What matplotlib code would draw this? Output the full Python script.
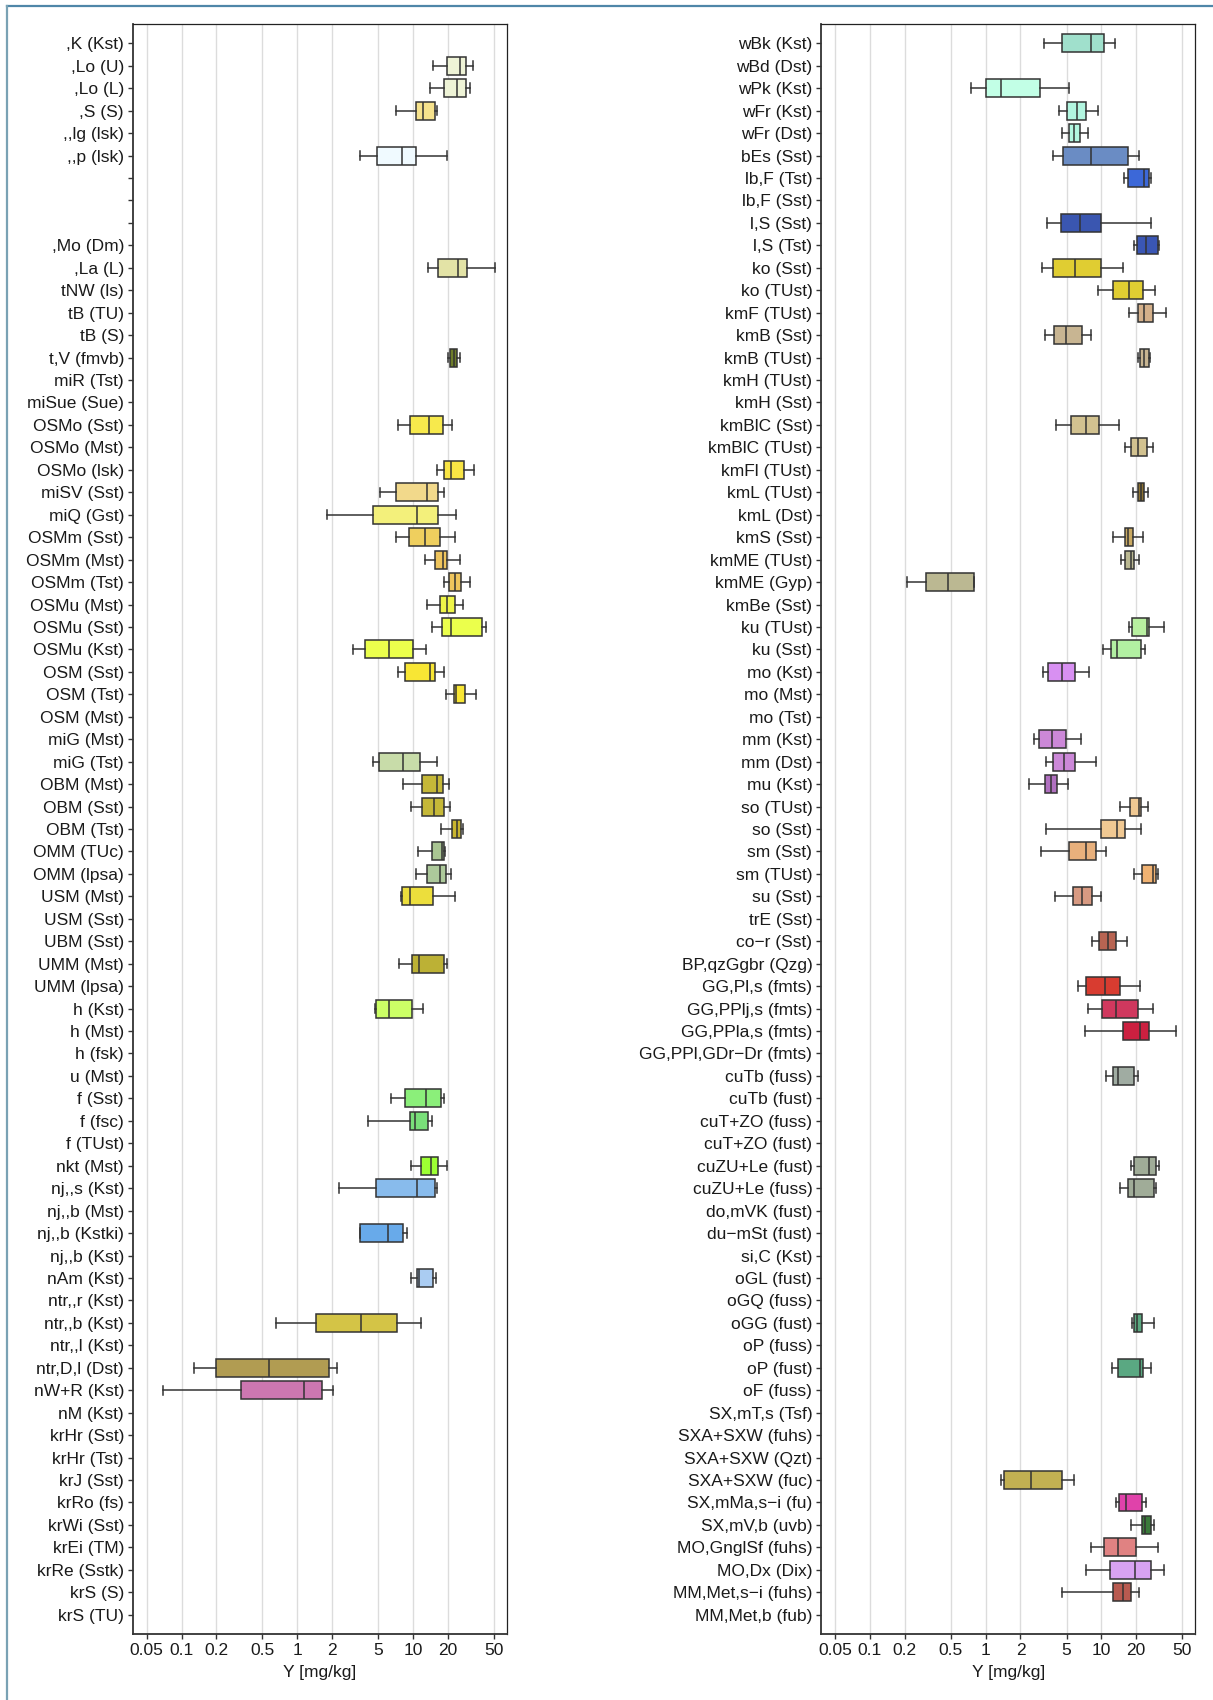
import matplotlib
matplotlib.use("Agg")
import matplotlib.pyplot as plt
from matplotlib.lines import Line2D

plt.rcParams["font.family"] = ["Liberation Sans", "DejaVu Sans"]

# ---- left panel ----
left_labels = [
    ",K (Kst)", ",Lo (U)", ",Lo (L)", ",S (S)", ",,lg (lsk)", ",,p (lsk)", "", "", "",
    ",Mo (Dm)", ",La (L)", "tNW (ls)", "tB (TU)", "tB (S)", "t,V (fmvb)", "miR (Tst)",
    "miSue (Sue)", "OSMo (Sst)", "OSMo (Mst)", "OSMo (lsk)", "miSV (Sst)", "miQ (Gst)",
    "OSMm (Sst)", "OSMm (Mst)", "OSMm (Tst)", "OSMu (Mst)", "OSMu (Sst)", "OSMu (Kst)",
    "OSM (Sst)", "OSM (Tst)", "OSM (Mst)", "miG (Mst)", "miG (Tst)", "OBM (Mst)",
    "OBM (Sst)", "OBM (Tst)", "OMM (TUc)", "OMM (lpsa)", "USM (Mst)", "USM (Sst)",
    "UBM (Sst)", "UMM (Mst)", "UMM (lpsa)", "h (Kst)", "h (Mst)", "h (fsk)", "u (Mst)",
    "f (Sst)", "f (fsc)", "f (TUst)", "nkt (Mst)", "nj,,s (Kst)", "nj,,b (Mst)",
    "nj,,b (Kstki)", "nj,,b (Kst)", "nAm (Kst)", "ntr,,r (Kst)", "ntr,,b (Kst)",
    "ntr,,l (Kst)", "ntr,D,l (Dst)", "nW+R (Kst)", "nM (Kst)", "krHr (Sst)", "krHr (Tst)",
    "krJ (Sst)", "krRo (fs)", "krWi (Sst)", "krEi (TM)", "krRe (Sstk)", "krS (S)", "krS (TU)",
]
left_rows = [
    ",Lo (U)", ",Lo (L)", ",S (S)", ",,p (lsk)", ",La (L)", "t,V (fmvb)", "OSMo (Sst)",
    "OSMo (lsk)", "miSV (Sst)", "miQ (Gst)", "OSMm (Sst)", "OSMm (Mst)", "OSMm (Tst)",
    "OSMu (Mst)", "OSMu (Sst)", "OSMu (Kst)", "OSM (Sst)", "OSM (Tst)", "miG (Tst)",
    "OBM (Mst)", "OBM (Sst)", "OBM (Tst)", "OMM (TUc)", "OMM (lpsa)", "USM (Mst)",
    "UMM (Mst)", "h (Kst)", "f (Sst)", "f (fsc)", "nkt (Mst)", "nj,,s (Kst)",
    "nj,,b (Kstki)", "nAm (Kst)", "ntr,,b (Kst)", "ntr,D,l (Dst)", "nW+R (Kst)",
]
left_lo = [14.9, 13.9, 7.2, 3.46, 13.6, 20.0, 7.44, 16.0, 5.23, 1.81, 7.2, 12.6, 18.5,
           13.3, 14.6, 3.03, 7.39, 19.2, 4.49, 8.22, 9.7, 17.5, 11.0, 10.6, 7.9, 7.64,
           4.7, 6.43, 4.06, 9.58, 2.29, 3.49, 9.58, 0.658, 0.128, 0.0692]
left_q1 = [19.6, 18.7, 10.7, 4.93, 16.3, 20.7, 9.45, 18.7, 7.1, 4.49, 9.27, 15.6, 20.4,
           17.1, 17.8, 3.83, 8.61, 22.4, 5.09, 11.9, 11.9, 21.7, 14.7, 13.2, 8.11, 9.77,
           4.77, 8.61, 9.39, 11.7, 4.8, 3.49, 10.8, 1.45, 0.2, 0.327]
left_med = [25.3, 24.0, 12.3, 8.11, 24.3, 22.4, 13.7, 21.5, 13.2, 10.9, 12.6, 18.1, 23.3,
            19.6, 21.5, 6.26, 14.0, 23.5, 8.22, 16.0, 15.1, 24.0, 17.8, 17.2, 9.39, 11.2,
            6.22, 12.9, 10.4, 14.4, 10.8, 6.1, 11.3, 3.53, 0.569, 1.15]
left_q3 = [28.9, 28.7, 15.6, 10.7, 29.2, 24.0, 18.2, 27.5, 16.4, 16.6, 17.0, 19.8, 25.8,
           23.3, 39.4, 9.97, 15.4, 27.9, 11.4, 18.0, 18.7, 25.8, 18.5, 19.4, 14.9, 18.7,
           9.9, 17.3, 13.4, 16.3, 15.4, 8.28, 15.0, 7.25, 1.89, 1.65]
left_hi = [32.7, 30.9, 16.2, 19.8, 50.8, 25.4, 21.8, 33.9, 18.5, 23.6, 23.0, 25.3, 31.3,
           27.2, 42.4, 13.0, 18.6, 35.0, 16.0, 20.3, 20.7, 26.8, 19.1, 21.4, 23.3, 19.6,
           12.3, 18.6, 14.5, 19.6, 16.2, 8.96, 15.7, 11.7, 2.22, 2.05]
left_colors = [
    "#eef3d6", "#eef3d6", "#f6e28c", "#f0faff", "#e3e3a6", "#6e7d2a", "#f7e94c",
    "#f8e444", "#f2d98b", "#f3f07b", "#efcf5e", "#eec45c", "#efc55c", "#eef548",
    "#ebff4c", "#ebff4c", "#f8e634", "#f8e634", "#c8dca9", "#c5b838", "#c5b838",
    "#c9b52e", "#a9c592", "#adc99b", "#ecde3c", "#bcb135", "#ccff66", "#8bef7a",
    "#79df79", "#9dff33", "#88bbec", "#68aaea", "#aaccf2", "#d4c446", "#b19c52", "#cc77b0",
]

# ---- right panel ----
right_labels = [
    "wBk (Kst)", "wBd (Dst)", "wPk (Kst)", "wFr (Kst)", "wFr (Dst)", "bEs (Sst)",
    "lb,F (Tst)", "lb,F (Sst)", "l,S (Sst)", "l,S (Tst)", "ko (Sst)", "ko (TUst)",
    "kmF (TUst)", "kmB (Sst)", "kmB (TUst)", "kmH (TUst)", "kmH (Sst)", "kmBlC (Sst)",
    "kmBlC (TUst)", "kmFl (TUst)", "kmL (TUst)", "kmL (Dst)", "kmS (Sst)", "kmME (TUst)",
    "kmME (Gyp)", "kmBe (Sst)", "ku (TUst)", "ku (Sst)", "mo (Kst)", "mo (Mst)", "mo (Tst)",
    "mm (Kst)", "mm (Dst)", "mu (Kst)", "so (TUst)", "so (Sst)", "sm (Sst)", "sm (TUst)",
    "su (Sst)", "trE (Sst)", "co\u2212r (Sst)", "BP,qzGgbr (Qzg)", "GG,Pl,s (fmts)",
    "GG,PPlj,s (fmts)", "GG,PPla,s (fmts)", "GG,PPl,GDr\u2212Dr (fmts)", "cuTb (fuss)",
    "cuTb (fust)", "cuT+ZO (fuss)", "cuT+ZO (fust)", "cuZU+Le (fust)", "cuZU+Le (fuss)",
    "do,mVK (fust)", "du\u2212mSt (fust)", "si,C (Kst)", "oGL (fust)", "oGQ (fuss)",
    "oGG (fust)", "oP (fuss)", "oP (fust)", "oF (fuss)", "SX,mT,s (Tsf)",
    "SXA+SXW (fuhs)", "SXA+SXW (Qzt)", "SXA+SXW (fuc)", "SX,mMa,s\u2212i (fu)",
    "SX,mV,b (uvb)", "MO,GnglSf (fuhs)", "MO,Dx (Dix)", "MM,Met,s\u2212i (fuhs)",
    "MM,Met,b (fub)",
]
right_rows = [
    "wBk (Kst)", "wPk (Kst)", "wFr (Kst)", "wFr (Dst)", "bEs (Sst)", "lb,F (Tst)",
    "l,S (Sst)", "l,S (Tst)", "ko (Sst)", "ko (TUst)", "kmF (TUst)", "kmB (Sst)",
    "kmB (TUst)", "kmBlC (Sst)", "kmBlC (TUst)", "kmL (TUst)", "kmS (Sst)", "kmME (TUst)",
    "kmME (Gyp)", "ku (TUst)", "ku (Sst)", "mo (Kst)", "mm (Kst)", "mm (Dst)", "mu (Kst)",
    "so (TUst)", "so (Sst)", "sm (Sst)", "sm (TUst)", "su (Sst)", "co\u2212r (Sst)",
    "GG,Pl,s (fmts)", "GG,PPlj,s (fmts)", "GG,PPla,s (fmts)", "cuTb (fuss)",
    "cuZU+Le (fust)", "cuZU+Le (fuss)", "oGG (fust)", "oP (fust)", "SXA+SXW (fuc)",
    "SX,mMa,s\u2212i (fu)", "SX,mV,b (uvb)", "MO,GnglSf (fuhs)", "MO,Dx (Dix)",
    "MM,Met,s\u2212i (fuhs)",
]
right_lo = [3.19, 0.743, 4.33, 4.57, 3.79, 15.8, 3.37, 19.2, 3.07, 9.36, 17.3, 3.29,
            20.9, 4.03, 15.9, 18.9, 12.7, 14.7, 0.211, 17.5, 10.4, 3.14, 2.63, 3.32,
            2.37, 14.6, 3.32, 2.98, 19.0, 3.97, 8.33, 6.29, 7.7, 7.24, 11.0, 18.2, 14.6,
            18.4, 12.3, 1.37, 13.5, 18.2, 8.13, 7.41, 4.57]
right_q1 = [4.57, 1.0, 5.02, 5.26, 4.64, 17.1, 4.47, 20.4, 3.82, 12.7, 20.7, 3.91,
            21.5, 5.47, 18.0, 20.7, 16.0, 16.0, 0.308, 18.3, 12.0, 3.48, 2.89, 3.79,
            3.24, 17.7, 9.96, 5.26, 22.6, 5.64, 9.58, 7.41, 10.2, 15.4, 12.5, 19.0, 17.1,
            19.0, 13.9, 1.44, 14.2, 22.4, 10.5, 11.8, 12.5]
right_med = [8.13, 1.35, 6.1, 5.77, 8.07, 23.3, 6.54, 24.4, 5.96, 17.2, 23.5, 4.98,
             23.3, 7.3, 20.9, 22.2, 17.1, 18.2, 0.473, 24.6, 13.6, 4.53, 3.76, 4.71,
             3.67, 21.0, 13.7, 7.3, 27.9, 6.75, 11.4, 10.7, 13.4, 21.5, 13.9, 25.6, 19.0,
             20.4, 21.4, 2.45, 16.2, 24.0, 13.9, 19.5, 15.3]
right_q3 = [10.6, 2.93, 7.35, 6.59, 17.1, 25.6, 10.0, 31.1, 9.96, 22.9, 27.9, 6.75,
            25.6, 9.58, 24.6, 23.3, 18.6, 19.3, 0.791, 26.0, 21.9, 5.87, 4.98, 5.87,
            4.1, 21.9, 15.9, 8.93, 29.4, 8.26, 13.5, 14.5, 20.6, 25.6, 19.3, 29.4, 28.5,
            22.6, 22.7, 4.61, 22.6, 26.8, 20.1, 27.0, 17.9]
right_hi = [13.1, 5.22, 9.43, 7.7, 21.2, 26.8, 27.0, 31.8, 15.5, 29.0, 36.0, 8.07,
            26.2, 14.3, 27.9, 25.4, 23.1, 21.1, 0.791, 34.7, 23.6, 7.76, 6.69, 9.0,
            5.1, 25.2, 22.0, 10.9, 30.6, 10.0, 16.8, 21.5, 27.7, 43.8, 20.7, 31.3, 29.4,
            28.3, 27.0, 5.82, 24.2, 28.7, 31.1, 34.9, 21.1]
right_colors = [
    "#a0e0cc", "#c2ffe6", "#b2f6e0", "#b2f6e0", "#6a8cc4", "#3c68d8", "#3a56b0",
    "#3a56b4", "#e0cd32", "#e0cd32", "#d4b08a", "#c8b592", "#c8b592", "#d2c290",
    "#d2c290", "#8c7232", "#c9a962", "#bab892", "#bbb892", "#b8f0a0", "#b2f0a2",
    "#d890f2", "#cc88d8", "#cc88d8", "#b070c0", "#f0c892", "#f0c892", "#e8b07c",
    "#f0b272", "#d89a82", "#b86452", "#d83c30", "#d0385e", "#cc2040", "#a0aca2",
    "#a0ac98", "#a0ac98", "#5aa880", "#5aa882", "#c2b052", "#e042aa", "#3a7a3a",
    "#e08282", "#d8a2f2", "#b85a50",
]

TICKS = [0.05, 0.1, 0.2, 0.5, 1, 2, 5, 10, 20, 50]
TICK_LABELS = ["0.05", "0.1", "0.2", "0.5", "1", "2", "5", "10", "20", "50"]
TXT = "#1a1a1a"
EDGE = "#333333"


def draw_panel(ax, labels, rows, lo, q1, med, q3, hi, colors):
    stats = []
    pos = []
    for i, name in enumerate(rows):
        stats.append({"whislo": lo[i], "q1": q1[i], "med": med[i],
                      "q3": q3[i], "whishi": hi[i], "fliers": []})
        pos.append(labels.index(name))

    ax.grid(axis="x", color="#dcdcdc", lw=1.0, zorder=0)
    ax.set_axisbelow(True)

    bp = ax.bxp(stats, positions=pos, orientation="horizontal", widths=0.8,
                capwidths=0.42, patch_artist=True, showfliers=False,
                boxprops=dict(edgecolor=EDGE, linewidth=1.1),
                whiskerprops=dict(color=EDGE, linewidth=1.1),
                capprops=dict(color=EDGE, linewidth=1.1),
                medianprops=dict(color=EDGE, linewidth=1.1))
    for patch, c in zip(bp["boxes"], colors):
        patch.set_facecolor(c)

    ax.set_xscale("log")
    ax.set_xlim(0.038, 65)
    ax.set_xticks(TICKS)
    ax.set_xticklabels(TICK_LABELS)
    ax.minorticks_off()
    ax.set_yticks(range(len(labels)))
    ax.set_yticklabels(labels)
    ax.set_ylim(len(labels) - 1 + 0.86, -0.86)
    ax.set_xlabel("Y [mg/kg]", fontsize=12.5, color=TXT, labelpad=5)
    ax.tick_params(axis="both", labelsize=12.5, labelcolor=TXT, length=3.5,
                   width=1.0, color="#333333", pad=3)
    for side in ["top", "right"]:
        ax.spines[side].set_color("#222222")
        ax.spines[side].set_linewidth(0.9)
    for side in ["left", "bottom"]:
        ax.spines[side].set_color("#333333")
        ax.spines[side].set_linewidth(1.3)


fig = plt.figure(figsize=(12.13, 17.0), dpi=100)
ax_l = fig.add_axes([0.1096, 0.0388, 0.3084, 0.9471])
ax_r = fig.add_axes([0.6771, 0.0388, 0.3084, 0.9471])

draw_panel(ax_l, left_labels, left_rows, left_lo, left_q1, left_med, left_q3,
           left_hi, left_colors)
draw_panel(ax_r, right_labels, right_rows, right_lo, right_q1, right_med, right_q3,
           right_hi, right_colors)

# frame lines (top and left) around the figure
fig.add_artist(Line2D([7 / 1213, 1.0], [1 - 6 / 1700, 1 - 6 / 1700],
                      transform=fig.transFigure, color="#4f86a8", lw=1.6))
fig.add_artist(Line2D([7 / 1213, 7 / 1213], [0.0, 1 - 6 / 1700],
                      transform=fig.transFigure, color="#7aa2b4", lw=1.6))

fig.savefig("out.png", dpi=100)
